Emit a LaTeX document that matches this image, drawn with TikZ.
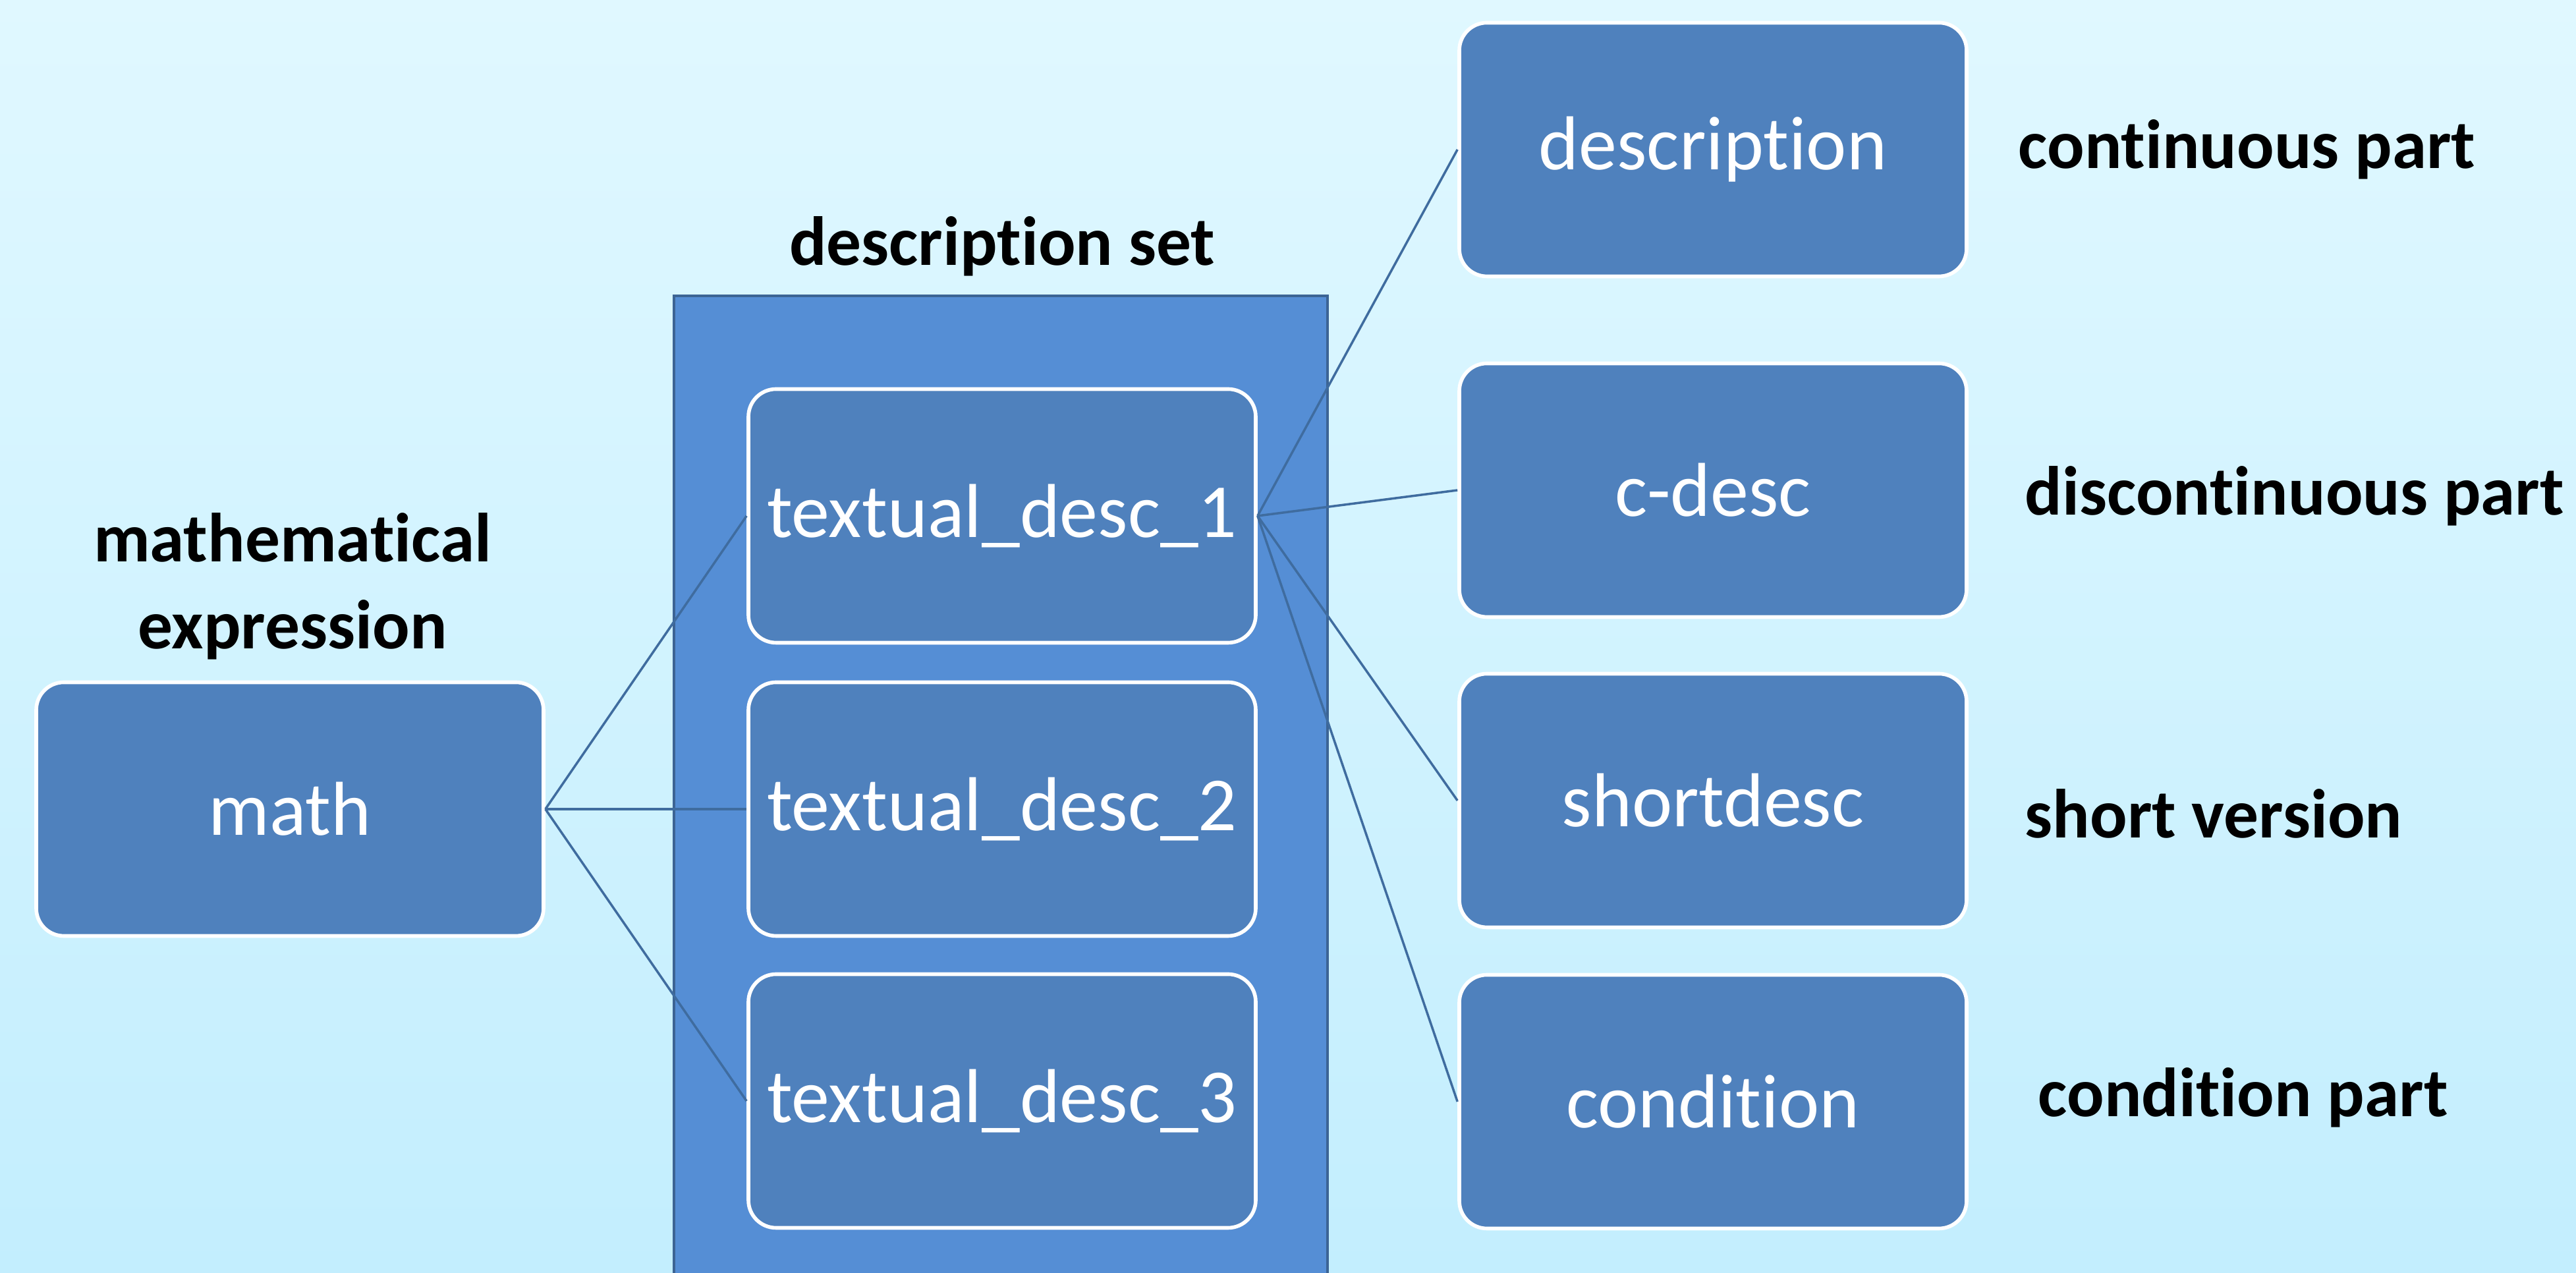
\documentclass[tikz,border=0pt]{standalone}
\usepackage{fontspec}
\setmainfont{Carlito}[Ligatures={NoCommon}]
\usepackage{xcolor}
\definecolor{bgtop}{HTML}{E0F8FF}
\definecolor{bgbot}{HTML}{C3EEFE}
\definecolor{setblue}{HTML}{558ED5}
\definecolor{setedge}{HTML}{3C6494}
\definecolor{boxblue}{HTML}{4F81BD}
\definecolor{linkblue}{HTML}{3F6C9F}
\usepackage{tikz}
\tikzset{
  %% Styles %%
  itembox/.style = {
    draw=white, line width=1.6pt, fill=boxblue, rounded corners=0.42cm,
    minimum width=7.7cm, minimum height=3.85cm, inner sep=0pt,
    text=white, font=\fontsize{33}{40}\selectfont
  },
  tag/.style = {font=\bfseries\fontsize{30}{37.5}\selectfont, text=black, inner sep=0pt},
  link/.style = {draw=linkblue, line width=1pt}
}

\begin{document}
\begin{tikzpicture}
  \useasboundingbox (0,0) rectangle (39.1,19.32);
  \shade[top color=bgtop, bottom color=bgbot] (0,0) rectangle (39.1,19.32);

  % description set
  \draw[fill=setblue, draw=setedge, line width=0.9pt] (10.23,-0.5) rectangle (20.15,14.83);
  \node[tag] (settag) at (15.21,15.58) {description set};
  \node[itembox] (td1) at (15.21,11.49) {textual\_desc\_1};
  \node[itembox] (td2) at (15.21,7.04) {textual\_desc\_2};
  \node[itembox] (td3) at (15.21,2.61) {textual\_desc\_3};

  % math
  \node[itembox] (math) at (4.40,7.04) {math};
  \node[tag, align=center] (mathtag) at (4.44,10.42) {mathematical\\expression};

  % parts
  \node[itembox] (desc) at (26.0,17.05) {description};
  \node[itembox] (cdesc) at (26.0,11.88) {c-desc};
  \node[itembox] (short) at (26.0,7.17) {shortdesc};
  \node[itembox] (cond) at (26.0,2.60) {condition};
  \node[tag, anchor=west] (desctag) at (30.63,17.05) {continuous part};
  \node[tag, anchor=west] (cdesctag) at (30.73,11.79) {discontinuous part};
  \node[tag, anchor=west] (shorttag) at (30.73,6.97) {short version};
  \node[tag, anchor=west] (condtag) at (30.93,2.66) {condition part};

  % links
  \foreach \t in {td1,td2,td3}
      \draw[link] (math.east) -- (\t.west);
  \foreach \p in {desc,cdesc,short,cond}
      \draw[link] (td1.east) -- (\p.west);
\end{tikzpicture}
\end{document}
